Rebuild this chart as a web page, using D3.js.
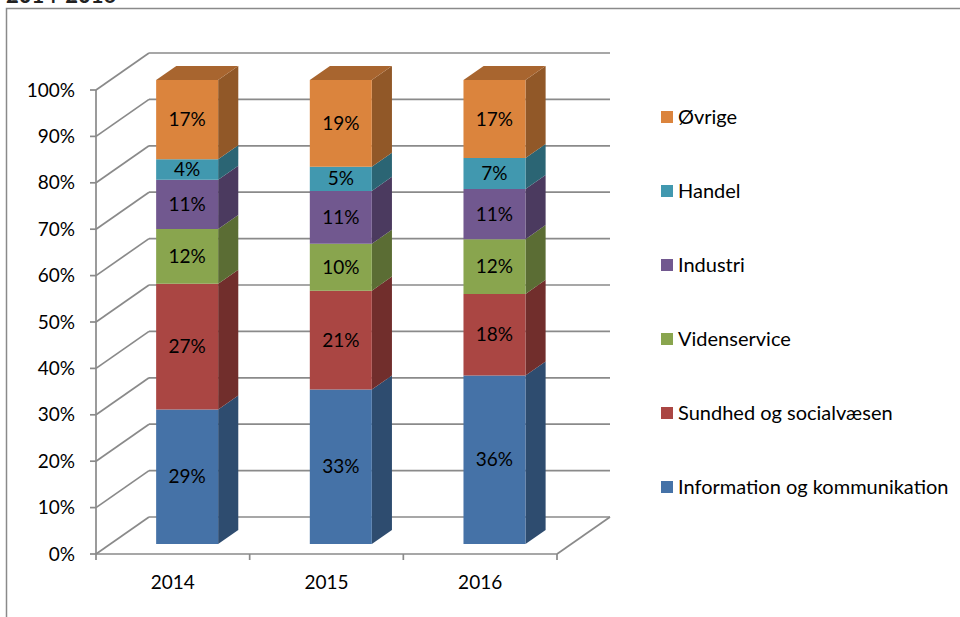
<!DOCTYPE html>
<html>
<head>
<meta charset="utf-8">
<script src="https://cdn.jsdelivr.net/npm/d3@7"></script>
<style>
  html, body { margin: 0; padding: 0; background: #fff; }
  svg { display: block; font-family: Lato, "Open Sans", sans-serif; }
</style>
</head>
<body>
<div id="chart"></div>
<script>
const YEARS = ["2014", "2015", "2016"];

const SECTORS = [
  { key: "info", label: "Information og kommunikation", color: "#4572A7" },
  { key: "sund", label: "Sundhed og socialvæsen", color: "#AA4643" },
  { key: "viden", label: "Videnservice", color: "#89A54E" },
  { key: "industri", label: "Industri", color: "#71588F" },
  { key: "handel", label: "Handel", color: "#4198AF" },
  { key: "ovrige", label: "Øvrige", color: "#DB843D" },
];

// share per sector (%), bottom to top, one array per sector
const info = [29.0, 33.3, 36.3];
const sund = [27.1, 21.3, 17.6];
const viden = [11.8, 10.1, 11.8];
const industri = [10.6, 11.4, 10.8];
const handel = [4.4, 5.2, 6.7];
const ovrige = [17.1, 18.7, 16.8];

const Y_TICKS = [0, 10, 20, 30, 40, 50, 60, 70, 80, 90, 100];

const seriesByKey = { info, sund, viden, industri, handel, ovrige };

const W = 960, H = 617;
const FLOOR_Y = 554;          // front floor edge
const X0 = 96, X1 = 557;      // front floor edge, left/right
const DX = 53, DY = -37;      // depth offset of the back wall
const PLOT_H = 464;
const BAR_W = 62;
const T0 = 0.27, T1 = 0.65;   // bar depth range (fraction of depth)
const FONT = 19;

const svg = d3.select("#chart").append("svg")
  .attr("width", W).attr("height", H);

svg.append("rect").attr("width", W).attr("height", H).attr("fill", "#fff");

// title (cut off at the top of the picture)
svg.append("text")
  .attr("x", 6).attr("y", 3)
  .attr("font-size", 22).attr("font-weight", "bold")
  .attr("fill", "#222")
  .text("2014-2016");

// chart border
svg.append("rect")
  .attr("x", 6.5).attr("y", 8.5)
  .attr("width", 1000).attr("height", 700)
  .attr("fill", "none").attr("stroke", "#8a8a8a").attr("stroke-width", 1.5);

const x = d3.scaleBand().domain(YEARS).range([X0, X1]);
const y = d3.scaleLinear().domain([0, 100]).range([0, PLOT_H]);

// project (front x, value, depth t) to screen
const px = (xf, t) => xf + DX * t;
const py = (v, t) => FLOOR_Y - y(v) + DY * t;

const GRID = "#8a8a8a";

// —— walls and floor ——
const wall = svg.append("g").attr("stroke", GRID).attr("stroke-width", 1.7).attr("fill", "none");

wall.selectAll(".side")
  .data(Y_TICKS)
  .join("line")
  .attr("x1", X0).attr("y1", (d) => py(d, 0))
  .attr("x2", px(X0, 1)).attr("y2", (d) => py(d, 1));

wall.selectAll(".back")
  .data(Y_TICKS)
  .join("line")
  .attr("x1", px(X0, 1)).attr("y1", (d) => py(d, 1))
  .attr("x2", px(X1, 1)).attr("y2", (d) => py(d, 1));

// floor front and right edges
wall.append("line")
  .attr("x1", X0).attr("y1", py(0, 0)).attr("x2", X1).attr("y2", py(0, 0));
wall.append("line")
  .attr("x1", X1).attr("y1", py(0, 0)).attr("x2", px(X1, 1)).attr("y2", py(0, 1));

// front value axis
wall.append("line")
  .attr("x1", X0).attr("y1", py(0, 0)).attr("x2", X0).attr("y2", py(100, 0));
wall.selectAll(".ytick")
  .data(Y_TICKS)
  .join("line")
  .attr("x1", X0 - 6).attr("x2", X0)
  .attr("y1", (d) => py(d, 0)).attr("y2", (d) => py(d, 0));

// category ticks
const catEdges = YEARS.map((d) => x(d)).concat([X1]);
wall.selectAll(".xtick")
  .data(catEdges)
  .join("line")
  .attr("x1", (d) => d).attr("x2", (d) => d)
  .attr("y1", FLOOR_Y).attr("y2", FLOOR_Y + 6);

// value labels
svg.append("g")
  .selectAll("text")
  .data(Y_TICKS)
  .join("text")
  .attr("x", 75)
  .attr("y", (d) => py(d, 0))
  .attr("dy", "0.35em")
  .attr("text-anchor", "end")
  .attr("font-size", FONT)
  .attr("fill", "#000")
  .text((d) => `${d}%`);

// category labels
svg.append("g")
  .selectAll("text")
  .data(YEARS)
  .join("text")
  .attr("x", (d) => x(d) + x.bandwidth() / 2)
  .attr("y", 582)
  .attr("dy", "0.35em")
  .attr("text-anchor", "middle")
  .attr("font-size", FONT)
  .attr("fill", "#000")
  .text((d) => d);

// —— stacked 3D bars ——
const rows = YEARS.map((year, i) => {
  const r = { year };
  SECTORS.forEach((s) => { r[s.key] = seriesByKey[s.key][i]; });
  return r;
});

const stack = d3.stack().keys(SECTORS.map((s) => s.key)).offset(d3.stackOffsetExpand);
const stacked = stack(rows);
const colorOf = Object.fromEntries(SECTORS.map((s) => [s.key, s.color]));

const bars = svg.append("g");

YEARS.forEach((year, i) => {
  const xl = x(year) + x.bandwidth() / 2 - BAR_W / 2;
  const xr = xl + BAR_W;
  const g = bars.append("g");

  stacked.forEach((layer, li) => {
    const v0 = layer[i][0] * 100;
    const v1 = layer[i][1] * 100;
    const base = d3.color(colorOf[layer.key]);
    const pts = (arr) => arr.map((p) => p.join(",")).join(" ");

    // right side face
    g.append("polygon")
      .attr("points", pts([
        [px(xr, T0), py(v0, T0)],
        [px(xr, T1), py(v0, T1)],
        [px(xr, T1), py(v1, T1)],
        [px(xr, T0), py(v1, T0)],
      ]))
      .attr("fill", base.darker(1.15));

    // front face
    g.append("polygon")
      .attr("points", pts([
        [px(xl, T0), py(v0, T0)],
        [px(xr, T0), py(v0, T0)],
        [px(xr, T0), py(v1, T0)],
        [px(xl, T0), py(v1, T0)],
      ]))
      .attr("fill", base);

    if (li === stacked.length - 1) {
      g.append("polygon")
        .attr("points", pts([
          [px(xl, T0), py(v1, T0)],
          [px(xr, T0), py(v1, T0)],
          [px(xr, T1), py(v1, T1)],
          [px(xl, T1), py(v1, T1)],
        ]))
        .attr("fill", base.darker(0.75));
    }

    g.append("text")
      .attr("x", px((xl + xr) / 2, T0))
      .attr("y", (py(v0, T0) + py(v1, T0)) / 2)
      .attr("dy", "0.35em")
      .attr("text-anchor", "middle")
      .attr("font-size", FONT)
      .attr("fill", "#000")
      .text(`${Math.round(layer[i].data[layer.key])}%`);
  });
});

// —— legend (top = Øvrige) ——
const legendItems = SECTORS.slice().reverse();
const legend = svg.append("g").attr("transform", "translate(661, 117)");

const item = legend.selectAll("g")
  .data(legendItems)
  .join("g")
  .attr("transform", (_, i) => `translate(0, ${i * 74})`);

item.append("rect")
  .attr("x", 0).attr("y", -6)
  .attr("width", 12).attr("height", 12)
  .attr("fill", (d) => d.color);

item.append("text")
  .attr("x", 17).attr("y", 0)
  .attr("dy", "0.35em")
  .attr("font-size", 20)
  .attr("fill", "#000")
  .text((d) => d.label);
</script>
</body>
</html>
